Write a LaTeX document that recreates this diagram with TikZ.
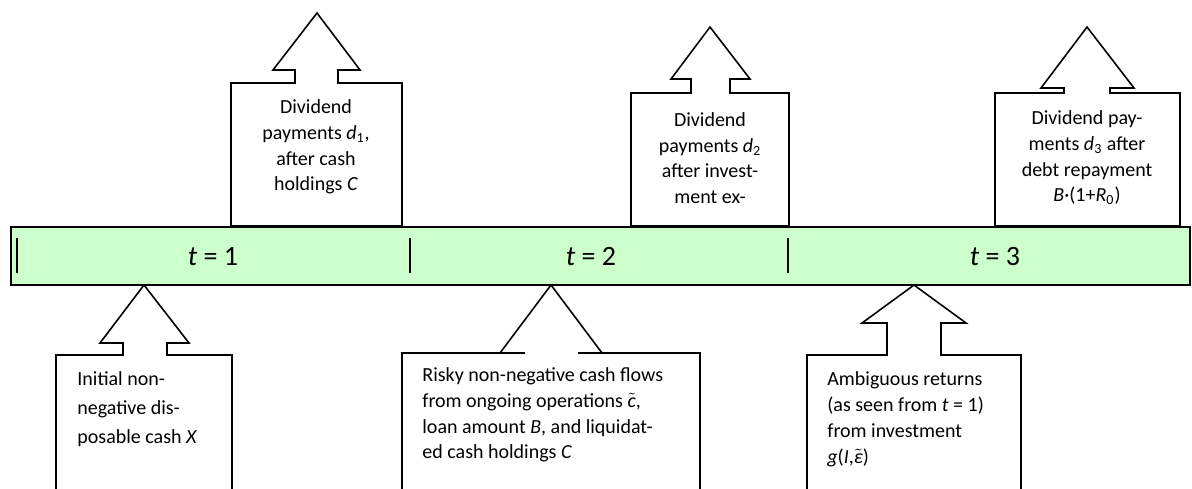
\documentclass[tikz,border=0pt]{standalone}
\usepackage{fontspec}
\setmainfont{Carlito}
\usepackage{tikz}
\usetikzlibrary{positioning}
\definecolor{PaleGreen}{RGB}{204,255,204}
\tikzset{%
  callout/.style={%
    draw=black, line width=0.8pt, fill=white, line join=miter
  },
  timebar/.style={draw=black, line width=0.8pt, fill=PaleGreen},
  divider/.style={line width=1pt},
  period/.style={font=\fontsize{14}{16}\selectfont, inner sep=0pt},
  upnote/.style={%
    align=center, inner sep=0pt, font=\fontsize{10}{12.85}\selectfont
  },
  downnote/.style={%
    align=left, anchor=west, inner sep=0pt, font=\fontsize{10}{12.8}\selectfont
  },
}

\begin{document}
\begin{tikzpicture}[x=0.5pt, y=-0.5pt]
    \useasboundingbox (0,0) rectangle (1192,488);

    % upper block arrows
    \draw[callout] (231,226) |- (295,83) |- (273,70) -- (317,13) -- (360,70)
        -| (338,83) -| (402,226) -- cycle;
    \draw[callout] (631,226) |- (691,93) |- (671,79) -- (710,27) -- (750,79)
        -| (730,93) -| (789,226) -- cycle;
    \draw[callout] (995,226) |- (1064,93) |- (1041,88) -- (1087,27) -- (1134,88)
        -| (1110,93) -| (1180,226) -- cycle;

    % time line
    \draw[timebar] (11,227) rectangle (1190,285);
    \draw[divider] (17,238) -- (17,273);
    \draw[divider] (410,238) -- (410,273);
    \draw[divider] (788,238) -- (788,273);
    \node (T1)[period] at (213,257) {\textit{t} = 1};
    \node (T2)[period] at (591,257) {\textit{t} = 2};
    \node (T3)[period] at (995,257) {\textit{t} = 3};

    % lower block arrows
    \draw[callout] (56,489) |- (123,355) |- (100,343) -- (144,285) -- (189,343)
        -| (167,355) -| (232,489);
    \draw[callout] (402,489) |- (525,353) -- (500,353) -- (551,285) -- (602,353)
        -- (578,353) -| (700,489);
    \draw[callout] (807,489) |- (887,355) |- (862,323) -- (914,285) -- (966,323)
        -| (941,355) -| (1021,489);

    \node (DIV1)[upnote] at (316,147) {%
        Dividend\\ payments \textit{d}\textsubscript{1},\\ after cash\\
        holdings \textit{C}};
    \node (DIV2)[upnote] at (710,158) {%
        Dividend\\ payments \textit{d}\textsubscript{2}\\ after invest-\\
        ment ex-};
    \node (DIV3)[upnote] at (1087,158) {%
        Dividend pay-\\ ments \textit{d}\textsubscript{3} after\\
        debt repayment\\ \textit{B}·(1+\textit{R}\textsubscript{0})};

    \node (CASH)[downnote, font=\fontsize{10}{14.4}\selectfont] at (77,409) {%
        Initial non-\\ negative dis-\\ posable cash \textit{X}};
    \node (FLOWS)[downnote] at (422,415) {%
        Risky non-negative cash flows\\
        from ongoing operations $\tilde{\textit{c}}$,\\
        loan amount \textit{B}, and liquidat-\\
        ed cash holdings \textit{C}};
    \node (RETURNS)[downnote, font=\fontsize{10}{13}\selectfont] at (827,419) {%
        Ambiguous returns\\ (as seen from \textit{t} = 1)\\
        from investment\\ \textit{g}(\textit{I},$\tilde{\textit{ε}}$)};
\end{tikzpicture}
\end{document}
